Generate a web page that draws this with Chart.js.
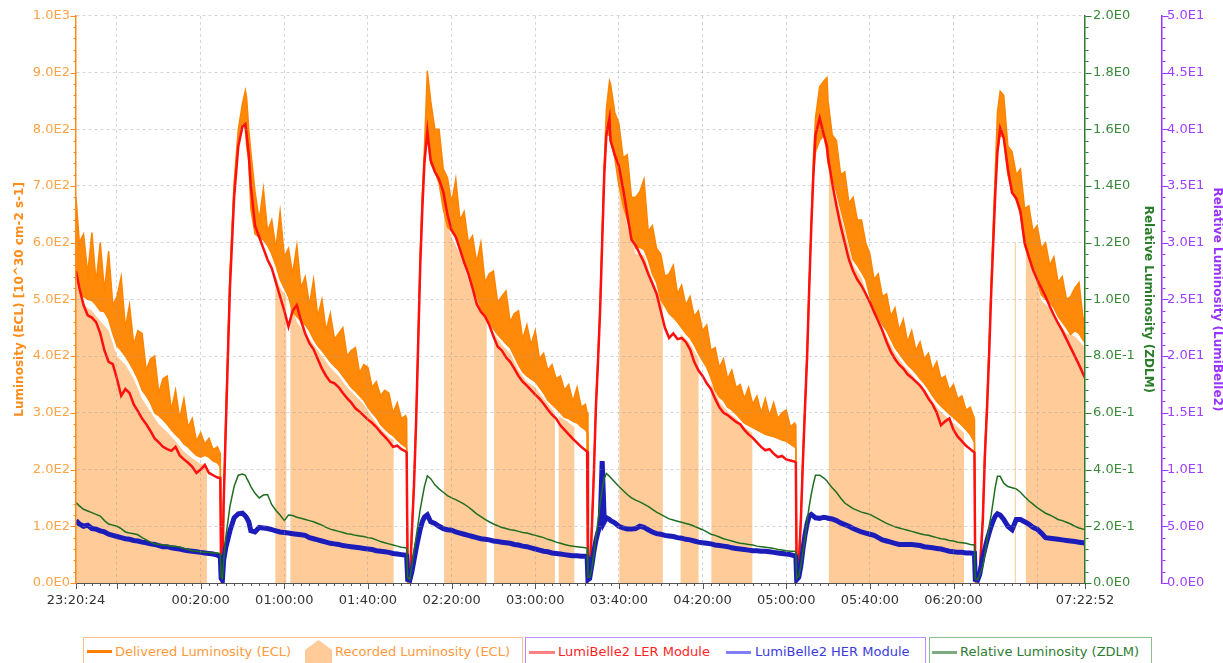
<!DOCTYPE html>
<html>
<head>
<meta charset="utf-8">
<title>Luminosity</title>
<script src="https://cdn.jsdelivr.net/npm/chart.js@4.4.1/dist/chart.umd.min.js"></script>
<style>
  body { margin: 0; background: #fff; font-family: "DejaVu Sans", sans-serif; }
  #wrap { position: relative; width: 1223px; height: 663px; overflow: hidden; }
  #chart { position: absolute; left: 0; top: 0; }
  .lg { position: absolute; top: 637px; height: 34px; border: 1.5px solid; box-sizing: border-box; }
  .it { position: absolute; top: 644px; font-size: 13px; line-height: 16px; white-space: nowrap; }
  .sw { position: absolute; }
</style>
</head>
<body>
<div id="wrap">
  <canvas id="chart" width="1223" height="620"></canvas>

  <div class="lg" style="left:83px;width:440px;border-color:#ffbf8c;"></div>
  <div class="lg" style="left:525px;width:401px;border-color:#bf8cff;"></div>
  <div class="lg" style="left:929px;width:223px;border-color:#8cbf8c;"></div>

  <div class="sw" style="left:87px;top:650px;width:25px;height:3px;background:#ff7f00;"></div>
  <div class="it" style="left:115px;color:#ff9a3c;">Delivered Luminosity (ECL)</div>
  <svg class="sw" style="left:305px;top:640px;" width="28" height="23"><polygon points="0,10 13.5,0 27,10 27,23 0,23" fill="#ffcc99"/></svg>
  <div class="it" style="left:335px;color:#ff9a3c;">Recorded Luminosity (ECL)</div>

  <div class="sw" style="left:529px;top:651px;width:26px;height:2.5px;background:#ff8080;"></div>
  <div class="it" style="left:558px;color:#ff1f1f;">LumiBelle2 LER Module</div>
  <div class="sw" style="left:726px;top:651px;width:25px;height:2.5px;background:#8080ff;"></div>
  <div class="it" style="left:755px;color:#3b3bdd;">LumiBelle2 HER Module</div>

  <div class="sw" style="left:932px;top:651px;width:25px;height:2.5px;background:#80aa80;"></div>
  <div class="it" style="left:960px;color:#2e7d32;">Relative Luminosity (ZDLM)</div>
</div>

<script>
// time in minutes after midnight (23:20:24 = -39.6, 07:22:52 = 442.87)
var times = [
  -39.6, -38, -36, -34, -32, -30, -28, -26, -24, -22, -20, -18, -16, -14, -12, -10, -8, -6, -4, -2,
  0, 2, 4, 6, 8, 10, 12, 14, 16, 18, 20, 22, 24, 26, 28, 29.4,
  29.8, 30.4, 31, 32, 34, 36, 38, 40, 41.4,
  42, 43, 44, 46, 48, 50, 52, 54, 56, 58, 60, 62, 64, 66, 68, 70, 72, 74, 76, 78, 80,
  82, 84, 86, 88, 90, 92, 94, 96, 98, 100, 102, 104, 106, 108, 110, 112, 114, 116, 118, 118.5,
  119, 120, 121, 122, 123, 124, 125, 126, 127, 128.4,
  130, 132, 134, 136, 138, 140, 142, 144, 146, 148, 150, 152, 154, 156, 158, 160, 162, 164, 166, 168,
  170, 172, 174, 176, 178, 180, 182, 184, 186, 188, 190, 192, 194, 196, 198, 200, 202, 204, 204.8,
  205.2, 206, 207, 208, 209, 210, 211, 212, 213, 214, 215.5,
  216, 218, 220, 222, 224, 226, 228, 230, 232, 234, 236, 238, 240, 242, 244, 246, 248, 250, 252, 254,
  256, 258, 260, 262, 264, 266, 268, 270, 272, 274, 276, 278, 280, 282, 284, 286, 288, 290, 292, 294,
  296, 298, 300, 302, 304, 304.6,
  305, 306, 307, 308, 309, 310, 311, 312, 313, 314, 316, 318, 319.5,
  320, 322, 324, 326, 328, 330, 332, 334, 336, 338, 340, 342, 344, 346, 348, 350, 352, 354, 356, 358,
  360, 362, 364, 366, 368, 370, 372, 374, 376, 378, 380, 382, 384, 386, 388, 390,
  390.4, 391.5, 392.5, 394, 395, 396, 397, 398, 399, 400, 401, 402.3,
  404, 406, 408, 410, 412, 414, 416, 418, 420, 422, 424, 426, 428, 430, 432, 434, 436, 438, 440, 442, 442.87
];

// Delivered Luminosity (ECL), upper and lower edge of the noisy trace
var deliveredMax = [
  680, 600, 615, 545, 618, 530, 600, 515, 585, 490, 505, 540, 450, 490, 420, 445, 440, 375, 395, 400,
  335, 360, 365, 305, 340, 290, 325, 275, 290, 250, 265, 245, 255, 235, 240, 228,
  12, 6, 150, 290, 545, 705, 800, 845, 868,
  855, 800, 760, 690, 640, 695, 620, 640, 590, 655, 575, 590, 545, 595, 520, 540, 490, 535, 470, 500, 445,
  475, 430, 440, 450, 400, 410, 415, 370, 385, 380, 345, 355, 330, 340, 335, 300, 318, 290, 295, 290,
  12, 6, 100, 180, 290, 430, 580, 686, 765, 903,
  850, 800, 800, 730, 715, 670, 712, 640, 655, 600, 612, 565, 600, 530, 545, 550, 495, 505, 515, 460,
  475, 480, 430, 455, 420, 445, 395, 405, 375, 385, 360, 365, 340, 350, 320, 345, 310, 315, 300,
  12, 20, 100, 200, 320, 400, 490, 620, 740, 835, 885,
  880, 830, 810, 750, 755, 680, 680, 690, 712, 620, 630, 590, 580, 540, 545, 560, 510, 525, 490, 505,
  470, 480, 445, 455, 410, 415, 380, 395, 360, 375, 345, 350, 325, 345, 315, 330, 300, 325, 295, 318,
  290, 300, 305, 275, 282, 278,
  12, 40, 120, 230, 320, 410, 530, 640, 750, 820, 875, 885, 891,
  850, 790, 780, 720, 725, 670, 680, 640, 640, 600, 580, 535, 545, 505, 510, 470, 485, 445, 465, 425,
  445, 410, 425, 395, 405, 375, 390, 360, 365, 340, 350, 325, 330, 305, 310, 290,
  12, 6, 30, 120, 240, 320, 420, 530, 630, 730, 830, 867,
  860, 770, 760, 720, 730, 660, 665, 620, 630, 590, 600, 560, 575, 530, 540, 500, 505, 520, 530, 465, 470
];
var deliveredMin = [
  555, 520, 505, 500, 498, 490, 480, 478, 465, 440, 418, 410, 400, 388, 375, 360, 340, 330, 318, 300,
  295, 288, 280, 270, 262, 255, 245, 240, 232, 225, 222, 225, 222, 215, 212, 205,
  0, 0, 140, 280, 535, 695, 785, 815, 800,
  770, 745, 660, 615, 610, 605, 595, 580, 560, 535, 520, 505, 478, 470, 462, 455, 445, 430, 418, 410, 400,
  390, 382, 375, 365, 355, 345, 338, 330, 322, 310, 300, 292, 280, 272, 265, 260, 252, 245, 240, 238,
  0, 0, 92, 172, 282, 422, 572, 678, 750, 790,
  740, 725, 705, 660, 628, 620, 612, 590, 565, 545, 522, 505, 485, 470, 460, 448, 438, 430, 422, 415,
  400, 385, 372, 365, 360, 355, 345, 335, 322, 315, 308, 300, 292, 290, 285, 282, 275, 270, 265,
  0, 10, 92, 192, 312, 392, 482, 612, 730, 790, 790,
  780, 750, 700, 665, 640, 610, 590, 592, 588, 570, 545, 530, 500, 488, 475, 468, 460, 450, 440, 432,
  420, 405, 392, 380, 362, 340, 328, 322, 310, 305, 298, 290, 282, 278, 274, 270, 266, 262, 260, 258,
  255, 252, 250, 245, 240, 238,
  0, 30, 112, 222, 312, 402, 522, 632, 720, 760, 780, 790, 760,
  740, 715, 690, 660, 632, 600, 570, 560, 548, 535, 505, 480, 470, 455, 445, 430, 415, 405, 395, 385,
  378, 370, 360, 352, 342, 330, 320, 312, 305, 298, 292, 285, 278, 270, 262, 248,
  0, 0, 20, 112, 232, 312, 412, 522, 622, 700, 760, 790,
  785, 720, 690, 675, 650, 595, 575, 560, 530, 508, 500, 495, 485, 470, 460, 450, 438, 445, 440, 428, 425
];

// LumiBelle2 modules (right purple axis)
var lerModule = [
  27.5, 26.0, 24.5, 23.6, 23.4, 23.0, 22.0, 20.5, 19.5, 19.3, 18.0, 16.5, 17.1, 16.75, 15.75, 15.15, 14.5, 14.0, 13.4, 12.75,
  12.4, 12.0, 11.8, 11.65, 12.0, 11.25, 10.9, 10.6, 10.25, 9.7, 10.0, 10.4, 9.7, 9.5, 9.3, 9.25,
  0.3, 0.2, 7.0, 13.5, 26.0, 34.0, 38.5, 40.25, 40.45,
  39.5, 37.75, 35.0, 31.5, 30.5, 29.5, 28.5, 27.75, 26.5, 25.25, 24.0, 22.6, 24.0, 24.5, 23.1, 22.0, 21.15, 20.6, 19.75, 18.9, 18.25,
  17.75, 17.6, 17.25, 16.75, 16.3, 15.9, 15.4, 15.1, 14.75, 14.4, 14.1, 13.75, 13.3, 12.9, 12.5, 12.0, 12.1, 11.8, 11.6, 11.5,
  0.3, 0.2, 4.5, 8.5, 14.0, 21.0, 28.0, 33.0, 37.0, 39.85,
  37.25, 36.25, 35.6, 34.5, 32.5, 31.1, 30.5, 29.4, 28.25, 27.25, 26.0, 24.6, 23.9, 23.5, 22.75, 21.75, 20.85, 20.5, 19.9, 19.5,
  18.9, 18.25, 17.75, 17.4, 17.0, 16.6, 16.25, 15.8, 15.3, 14.85, 14.5, 13.9, 13.5, 13.1, 12.7, 12.35, 12.0, 11.7, 11.6,
  0.3, 0.5, 4.5, 9.5, 15.5, 19.5, 24.0, 30.0, 36.0, 39.5, 41.0,
  39.0, 37.75, 36.75, 34.75, 32.5, 30.25, 29.75, 29.0, 28.25, 27.25, 26.4, 25.5, 24.0, 22.5, 21.6, 22.0, 21.5, 21.6, 21.25, 20.6,
  19.5, 18.75, 18.25, 17.6, 17.1, 16.25, 15.5, 15.0, 14.8, 14.5, 14.2, 14.0, 13.5, 13.1, 12.8, 12.4, 12.0, 11.7, 11.8, 11.4,
  11.1, 11.2, 10.9, 10.8, 10.7, 10.6,
  0.3, 1.5, 5.5, 10.75, 15.5, 20.0, 26.0, 31.5, 36.0, 39.5, 41.0, 39.5, 38.5,
  37.5, 35.25, 33.25, 31.5, 30.0, 28.5, 27.5, 26.75, 26.2, 25.5, 24.75, 23.9, 23.1, 22.25, 21.25, 20.4, 19.75, 19.25, 18.9, 18.4,
  18.1, 17.75, 17.4, 16.9, 16.25, 15.75, 15.0, 13.9, 14.25, 14.5, 13.5, 12.9, 12.5, 12.1, 11.8, 11.5,
  0.3, 0.2, 0.8, 5.5, 11.25, 15.25, 20.0, 25.5, 30.0, 34.5, 38.0, 40.1,
  39.25, 36.5, 34.4, 33.9, 32.75, 30.0, 28.75, 27.6, 26.75, 26.0, 25.25, 24.4, 23.6, 22.9, 22.25, 21.5, 20.75, 20.0, 19.25, 18.4, 18.1
];
var herModule = [
  5.5, 5.2, 5.0, 5.1, 4.8, 4.75, 4.6, 4.5, 4.3, 4.2, 4.1, 4.0, 3.9, 3.85, 3.75, 3.7, 3.6, 3.55, 3.45, 3.4,
  3.3, 3.2, 3.2, 3.1, 3.05, 3.0, 2.9, 2.85, 2.8, 2.75, 2.7, 2.65, 2.6, 2.55, 2.45, 2.3,
  0.4, 0.25, 2.0, 3.1, 4.6, 5.75, 6.1, 6.15, 5.9,
  5.75, 5.4, 4.6, 4.5, 4.9, 4.85, 4.8, 4.7, 4.6, 4.5, 4.45, 4.4, 4.35, 4.3, 4.25, 4.2, 4.0, 3.9, 3.8, 3.7, 3.6,
  3.5, 3.45, 3.4, 3.3, 3.25, 3.2, 3.15, 3.1, 3.05, 3.0, 2.95, 2.85, 2.8, 2.75, 2.7, 2.6, 2.55, 2.5, 2.45, 2.4,
  0.3, 0.25, 1.0, 2.0, 3.0, 3.9, 4.75, 5.4, 5.8, 6.0,
  5.4, 5.25, 5.0, 4.8, 4.7, 4.65, 4.5, 4.4, 4.3, 4.2, 4.1, 4.0, 3.9, 3.85, 3.8, 3.7, 3.65, 3.6, 3.55, 3.5,
  3.4, 3.35, 3.25, 3.2, 3.1, 3.0, 2.9, 2.8, 2.75, 2.65, 2.6, 2.55, 2.5, 2.45, 2.4, 2.4, 2.35, 2.35, 2.3,
  0.3, 0.4, 1.5, 2.75, 3.75, 4.5, 5.0, 10.75, 5.4, 5.75, 5.6,
  5.5, 5.3, 5.0, 4.85, 4.75, 4.75, 4.8, 5.0, 4.9, 4.7, 4.5, 4.35, 4.3, 4.2, 4.15, 4.1, 4.0, 3.95, 3.85, 3.8,
  3.7, 3.6, 3.55, 3.5, 3.45, 3.35, 3.3, 3.25, 3.2, 3.1, 3.05, 3.0, 2.95, 2.9, 2.85, 2.85, 2.8, 2.8, 2.75, 2.7,
  2.65, 2.6, 2.55, 2.5, 2.4, 2.35,
  0.3, 0.5, 1.5, 3.0, 4.25, 5.25, 5.9, 6.05, 5.9, 5.75, 5.7, 5.8, 5.75,
  5.7, 5.65, 5.5, 5.3, 5.15, 5.0, 4.8, 4.65, 4.5, 4.4, 4.3, 4.2, 4.0, 3.8, 3.7, 3.6, 3.5, 3.4, 3.4, 3.4,
  3.4, 3.35, 3.3, 3.2, 3.15, 3.1, 3.05, 3.0, 2.9, 2.8, 2.75, 2.7, 2.7, 2.65, 2.65, 2.6,
  0.3, 0.25, 0.75, 2.25, 3.0, 3.75, 4.4, 5.0, 5.5, 5.9, 6.1, 6.0,
  5.6, 5.0, 4.7, 5.6, 5.6, 5.4, 5.2, 4.9, 4.75, 4.4, 4.0, 3.95, 3.9, 3.85, 3.8, 3.75, 3.7, 3.65, 3.6, 3.55, 3.5
];

// Relative Luminosity (ZDLM), right green axis
var zdlmRelative = [
  0.284, 0.272, 0.26, 0.254, 0.248, 0.242, 0.236, 0.22, 0.208, 0.204, 0.2, 0.192, 0.18, 0.176, 0.174, 0.17, 0.16, 0.152, 0.144, 0.138,
  0.136, 0.134, 0.132, 0.13, 0.13, 0.126, 0.122, 0.118, 0.114, 0.112, 0.11, 0.108, 0.108, 0.106, 0.106, 0.104,
  0.02, 0.016, 0.08, 0.16, 0.27, 0.34, 0.38, 0.384, 0.38,
  0.37, 0.356, 0.34, 0.316, 0.3, 0.31, 0.312, 0.276, 0.256, 0.24, 0.22, 0.24, 0.238, 0.232, 0.228, 0.224, 0.22, 0.216, 0.21, 0.204, 0.196,
  0.19, 0.186, 0.182, 0.178, 0.174, 0.172, 0.168, 0.166, 0.164, 0.16, 0.158, 0.152, 0.146, 0.142, 0.138, 0.134, 0.13, 0.126, 0.124, 0.122,
  0.02, 0.012, 0.06, 0.11, 0.16, 0.21, 0.26, 0.3, 0.34, 0.378,
  0.368, 0.346, 0.332, 0.32, 0.308, 0.3, 0.294, 0.286, 0.278, 0.268, 0.256, 0.244, 0.234, 0.224, 0.216, 0.208, 0.202, 0.196, 0.192, 0.188,
  0.186, 0.182, 0.178, 0.176, 0.172, 0.168, 0.164, 0.16, 0.154, 0.15, 0.144, 0.14, 0.136, 0.132, 0.13, 0.128, 0.126, 0.124, 0.122,
  0.02, 0.02, 0.05, 0.1, 0.16, 0.22, 0.28, 0.33, 0.37, 0.386, 0.376,
  0.372, 0.356, 0.34, 0.326, 0.312, 0.3, 0.292, 0.286, 0.278, 0.27, 0.26, 0.25, 0.242, 0.234, 0.226, 0.222, 0.218, 0.214, 0.21, 0.206,
  0.2, 0.194, 0.188, 0.18, 0.172, 0.168, 0.162, 0.156, 0.152, 0.148, 0.144, 0.14, 0.138, 0.136, 0.134, 0.13, 0.128, 0.126, 0.124, 0.122,
  0.118, 0.116, 0.114, 0.112, 0.112, 0.11,
  0.016, 0.024, 0.06, 0.11, 0.16, 0.22, 0.27, 0.314, 0.35, 0.38, 0.38, 0.37, 0.36,
  0.354, 0.336, 0.32, 0.3, 0.282, 0.272, 0.262, 0.256, 0.25, 0.246, 0.242, 0.234, 0.226, 0.218, 0.21, 0.204, 0.198, 0.194, 0.19, 0.186,
  0.182, 0.178, 0.174, 0.17, 0.168, 0.164, 0.16, 0.156, 0.154, 0.15, 0.148, 0.144, 0.142, 0.14, 0.136, 0.134,
  0.016, 0.012, 0.03, 0.06, 0.1, 0.15, 0.2, 0.24, 0.29, 0.34, 0.376, 0.376,
  0.352, 0.34, 0.336, 0.332, 0.32, 0.304, 0.29, 0.278, 0.266, 0.256, 0.246, 0.24, 0.232, 0.224, 0.22, 0.214, 0.208, 0.2, 0.194, 0.19, 0.188
];

// Recorded Luminosity (ECL): only while recording, zero in the gaps
var recordedTimes = [
  -39.6, -36, -32, -28, -24, -20, -16, -12, -8, -4, 0, 4, 8, 12, 16, 20, 23.0, 23.0,
  55.7, 55.7, 58, 61.0, 61.0,
  62.9, 62.9, 66, 70, 74, 78, 82, 86, 90, 94, 98, 102, 106, 110, 112.3, 112.3,
  136.4, 136.4, 140, 144, 148, 152, 156.8, 156.8,
  160.3, 160.3, 164, 168, 172, 176, 180, 184, 189.4, 189.4,
  191.2, 191.2, 195, 198.7, 198.7,
  220.2, 220.2, 224, 228, 232, 236, 241.0, 241.0,
  249.5, 249.5, 254, 258.1, 258.1,
  264.2, 264.2, 268, 272, 276, 280, 283.8, 283.8,
  320.4, 320.4, 324, 328, 332, 336, 340, 344, 348, 352, 356, 360, 364, 368, 372, 376, 380, 385.0, 385.0,
  409.3, 409.3, 409.8, 409.8,
  414.6, 414.6, 418, 422, 426, 430, 434, 438, 442.87
];
var recordedValues = [
  535, 490, 480, 462, 445, 400, 385, 360, 325, 302, 280, 266, 250, 232, 220, 210, 208, 0,
  0, 545, 520, 505, 0,
  0, 495, 460, 440, 420, 400, 380, 365, 345, 330, 315, 292, 272, 258, 252, 0,
  0, 650, 610, 580, 535, 495, 460, 0,
  0, 440, 420, 405, 375, 355, 345, 325, 300, 0,
  0, 295, 285, 275, 0,
  0, 690, 630, 580, 578, 535, 490, 0,
  0, 440, 422, 395, 0,
  0, 352, 320, 302, 290, 274, 265, 0,
  0, 730, 680, 622, 560, 538, 495, 460, 435, 405, 385, 368, 350, 332, 310, 295, 282, 265, 0,
  0, 600, 600, 0,
  0, 585, 550, 498, 485, 460, 440, 435, 415
];

var xTickMinutes = [-39.6, -20, 20, 60, 100, 140, 180, 220, 260, 300, 340, 380, 420, 442.867];
var xTickLabels = ['23:20:24', '', '00:20:00', '01:00:00', '01:40:00', '02:20:00', '03:00:00',
  '03:40:00', '04:20:00', '05:00:00', '05:40:00', '06:20:00', '', '07:22:52'];

var eclColor = '#ff8c1a';
var zdlmColor = '#2b7d2b';
var belleColor = '#9933ff';

function sciLabel(v) {
  if (Math.abs(v) < 1e-9) return '0.0E0';
  var e = Math.floor(Math.log10(v) + 1e-9);
  var m = v / Math.pow(10, e);
  return m.toFixed(1) + 'E' + e;
}

function points(ys, xs) {
  return ys.map(function(y, i) { return { x: xs[i], y: y }; });
}

// small tick marks (major and minor) on all four axes
var tickMarks = {
  id: 'tickMarks',
  afterDraw: function(chart) {
    var ctx = chart.ctx;
    var area = chart.chartArea;
    var xs = chart.scales.x;
    ctx.save();
    ctx.lineWidth = 1;
    ctx.strokeStyle = '#555';
    ctx.beginPath();
    for (var m = -36; m <= 440; m += 4) {
      var px = Math.round(xs.getPixelForValue(m)) + 0.5;
      ctx.moveTo(px, area.bottom);
      ctx.lineTo(px, area.bottom + 3);
    }
    xTickMinutes.forEach(function(t) {
      var px = Math.round(xs.getPixelForValue(t)) + 0.5;
      ctx.moveTo(px, area.bottom);
      ctx.lineTo(px, area.bottom + 6);
    });
    ctx.stroke();

    [['yEcl', -1, 1000, eclColor, area.left],
     ['yZdlm', 1, 2, zdlmColor, area.right],
     ['yLumiBelle', 1, 50, belleColor, chart.scales.yLumiBelle.left]].forEach(function(a) {
      var sc = chart.scales[a[0]];
      var x0 = Math.round(a[4]) + 0.5;
      ctx.strokeStyle = a[3];
      ctx.beginPath();
      for (var k = 0; k <= 50; k++) {
        var py = Math.round(sc.getPixelForValue(a[2] * k / 50)) + 0.5;
        var len = (k % 5 === 0) ? 6 : 3;
        ctx.moveTo(x0, py);
        ctx.lineTo(x0 + a[1] * len, py);
      }
      ctx.stroke();
    });
    ctx.restore();
  }
};

Chart.defaults.font.family = '"DejaVu Sans", sans-serif';
Chart.defaults.font.size = 13;

var ctx = document.getElementById('chart').getContext('2d');
var lumiChart = new Chart(ctx, {
  type: 'line',
  data: {
    datasets: [{
      label: 'Relative Luminosity (ZDLM)',
      data: points(zdlmRelative, times),
      yAxisID: 'yZdlm',
      borderColor: '#1f6e1f',
      borderWidth: 1.5,
      order: 1
    }, {
      label: 'LumiBelle2 HER Module',
      data: points(herModule, times),
      yAxisID: 'yLumiBelle',
      borderColor: '#1c1cba',
      borderWidth: 5,
      order: 2
    }, {
      label: 'LumiBelle2 LER Module',
      data: points(lerModule, times),
      yAxisID: 'yLumiBelle',
      borderColor: '#ff1010',
      borderWidth: 2.5,
      order: 3
    }, {
      label: 'Delivered Luminosity (ECL)',
      data: points(deliveredMax, times),
      yAxisID: 'yEcl',
      borderColor: '#ff8400',
      borderWidth: 1.5,
      backgroundColor: '#ff8a0a',
      fill: '+1',
      order: 4
    }, {
      label: 'Delivered Luminosity (ECL) low',
      data: points(deliveredMin, times),
      yAxisID: 'yEcl',
      borderColor: '#ff8400',
      borderWidth: 1.5,
      fill: false,
      order: 5
    }, {
      label: 'Recorded Luminosity (ECL)',
      data: points(recordedValues, recordedTimes),
      yAxisID: 'yEcl',
      borderWidth: 0,
      borderColor: 'rgba(0,0,0,0)',
      backgroundColor: '#ffcc99',
      fill: 'origin',
      order: 6
    }]
  },
  options: {
    responsive: false,
    animation: false,
    devicePixelRatio: 1,
    layout: { padding: { top: 15, left: 0, right: 0, bottom: 0 } },
    elements: { point: { radius: 0 }, line: { tension: 0 } },
    plugins: { legend: { display: false }, tooltip: { enabled: false } },
    scales: {
      x: {
        type: 'linear',
        min: -39.6,
        max: 442.867,
        afterBuildTicks: function(scale) {
          scale.ticks = xTickMinutes.map(function(v) { return { value: v }; });
        },
        afterFit: function(scale) { scale.height = 37; },
        ticks: {
          autoSkip: false, maxRotation: 0, minRotation: 0, padding: 10, color: '#333',
          callback: function(value, index) { return xTickLabels[index]; }
        },
        grid: {
          drawTicks: false, z: 1,
          color: function(c) {
            return (c.index === 0 || c.index === xTickMinutes.length - 1) ? 'rgba(0,0,0,0)' : 'rgba(150,150,150,0.4)';
          }
        },
        border: { color: '#555', width: 1, dash: [3, 3], z: 2 }
      },
      yEcl: {
        position: 'left',
        min: 0, max: 1000,
        afterFit: function(scale) { scale.width = 76; },
        ticks: { stepSize: 100, padding: 6, color: '#ffa347', callback: function(v) { return sciLabel(v); } },
        grid: { drawTicks: false, z: 1, color: 'rgba(150,150,150,0.4)' },
        border: { color: eclColor, width: 1.5, dash: [3, 3], z: 2 },
        title: {
          display: true, text: 'Luminosity (ECL) [10^30 cm-2 s-1]', color: eclColor,
          font: { size: 12, weight: 'bold' }, padding: { top: 13, bottom: 0 }
        }
      },
      yZdlm: {
        position: 'right',
        weight: 0,
        min: 0, max: 2,
        afterFit: function(scale) { scale.width = 77; },
        ticks: { stepSize: 0.2, padding: 8, color: '#3a8a3a', callback: function(v) { return sciLabel(v); } },
        grid: { drawOnChartArea: false, drawTicks: false },
        border: { color: zdlmColor, width: 1.5, z: 2 },
        title: {
          display: true, text: 'Relative Luminosity (ZDLM)', color: zdlmColor,
          font: { size: 12, weight: 'bold' }, padding: { top: 7, bottom: 0 }
        }
      },
      yLumiBelle: {
        position: 'right',
        weight: 1,
        min: 0, max: 50,
        afterFit: function(scale) { scale.width = 61; },
        ticks: { stepSize: 5, padding: 5, color: '#a040ff', callback: function(v) { return sciLabel(v); } },
        grid: { drawOnChartArea: false, drawTicks: false },
        border: { color: belleColor, width: 1.5, z: 2 },
        title: {
          display: true, text: 'Relative Luminosity (LumiBelle2)', color: belleColor,
          font: { size: 12, weight: 'bold', lineHeight: 1 }, padding: { top: 0, bottom: 0 }
        }
      }
    }
  },
  plugins: [tickMarks]
});
</script>
</body>
</html>
